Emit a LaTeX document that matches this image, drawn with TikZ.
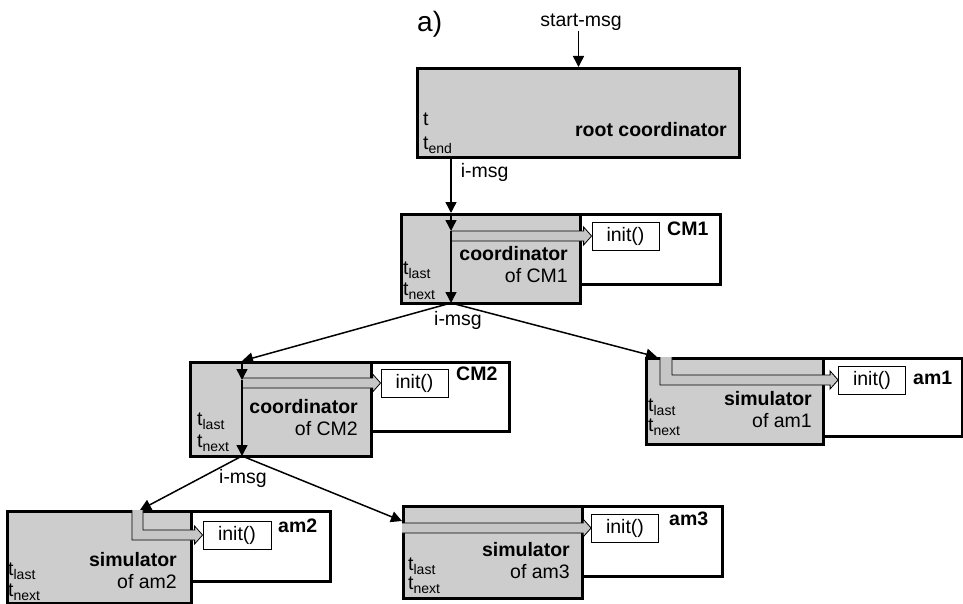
\documentclass[tikz,border=0pt]{standalone}
\usepackage{fontspec}
\setmainfont{Liberation Sans}
\usetikzlibrary{arrows.meta,calc}
\definecolor{boxgray}{RGB}{205,205,205}
\definecolor{bandgray}{RGB}{198,198,198}
% t with a lowered index (t_last, t_next, t_end)
\newcommand{\tix}[1]{t\raisebox{-4pt}{\fontsize{14}{14}\selectfont #1}}
% hollow arrow band from the vertical line #1 to the init() box #2
\newcommand{\hband}[2]{%
  \draw[band] ($(#1 |- #2)+(0,-5)$) -- ($(#2)+(-8,-5)$) -- ($(#2)+(-8,-9)$) -- (#2)
    -- ($(#2)+(-8,9)$) -- ($(#2)+(-8,5)$) -- ($(#1 |- #2)+(0,5)$);}

\begin{document}
\begin{tikzpicture}[x=1pt,y=-1pt,font=\fontsize{19.5}{22}\selectfont,
    every node/.style={inner sep=0pt},
    graybox/.style={draw,fill=boxgray,line width=3pt,anchor=north west},
    whitebox/.style={draw,fill=white,line width=3pt,anchor=north west},
    initbox/.style={draw,fill=white,line width=0.8pt,minimum width=67pt,minimum height=28pt},
    msg/.style={line width=1.5pt,-{Triangle[length=11pt,width=11pt]}},
    band/.style={fill=bandgray,draw,line width=0.8pt}]
    \useasboundingbox (0,0) rectangle (963,604);

    \node[anchor=base west,font=\fontsize{28}{28}\selectfont] (part) at (417,32) {a)};
    \node[anchor=base] (start) at (581,27) {start-msg};

    % root coordinator
    \node[graybox,minimum width=322pt,minimum height=89pt] (root) at (416,67) {};
    \node[anchor=base east] (rootname) at (727,137) {\textbf{root coordinator}};
    \node[anchor=base west] (roott) at (423,126) {t};
    \node[anchor=base west] (rootend) at (423,150) {\tix{end}};

    % coordinator of CM1
    \node[whitebox,minimum width=319pt,minimum height=70pt] (cm1w) at (400,213) {};
    \node[graybox,minimum width=179pt,minimum height=89pt] (cm1) at (400,213) {};
    \node[initbox] (cm1init) at (625.5,236) {init()};
    \node[anchor=base west] (cm1tag) at (667,235) {\textbf{CM1}};
    \node[anchor=base east,align=right] (cm1name) at (568,282) {\textbf{coordinator}\\of CM1};
    \node[anchor=base west] (cm1last) at (403,274) {\tix{last}};
    \node[anchor=base west] (cm1next) at (403,295) {\tix{next}};
    \coordinate (cm1in) at (451,231);
    \coordinate (cm1out) at (451,303);

    % coordinator of CM2
    \node[whitebox,minimum width=319pt,minimum height=69pt] (cm2w) at (189,361) {};
    \node[graybox,minimum width=181pt,minimum height=94pt] (cm2) at (189,361) {};
    \node[initbox] (cm2init) at (414.5,383) {init()};
    \node[anchor=base west] (cm2tag) at (456,380) {\textbf{CM2}};
    \node[anchor=base east,align=right] (cm2name) at (358,435) {\textbf{coordinator}\\of CM2};
    \node[anchor=base west] (cm2last) at (197,425) {\tix{last}};
    \node[anchor=base west] (cm2next) at (197,447) {\tix{next}};
    \coordinate (cm2in) at (242,380);
    \coordinate (cm2out) at (242,456);

    % simulator of am1
    \node[whitebox,minimum width=316pt,minimum height=78pt] (am1w) at (645,357) {};
    \node[graybox,minimum width=177pt,minimum height=86pt] (am1) at (645,357) {};
    \node[initbox] (am1init) at (872,380) {init()};
    \node[anchor=base west] (am1tag) at (913,384) {\textbf{am1}};
    \node[anchor=base east,align=right] (am1name) at (812,427) {\textbf{simulator}\\of am1};
    \node[anchor=base west] (am1last) at (648,411) {\tix{last}};
    \node[anchor=base west] (am1next) at (648,431) {\tix{next}};
    \coordinate (am1in) at (657,357);

    % simulator of am2
    \node[whitebox,minimum width=323pt,minimum height=70pt] (am2w) at (6,510) {};
    \node[graybox,minimum width=184pt,minimum height=92pt] (am2) at (6,510) {};
    \node[initbox,minimum width=68pt] (am2init) at (237,535) {init()};
    \node[anchor=base west] (am2tag) at (278,532) {\textbf{am2}};
    \node[anchor=base east,align=right] (am2name) at (177,588) {\textbf{simulator}\\of am2};
    \node[anchor=base west] (am2last) at (8,575) {\tix{last}};
    \node[anchor=base west] (am2next) at (8,596) {\tix{next}};
    \coordinate (am2in) at (140,510);

    % simulator of am3
    \node[whitebox,minimum width=319pt,minimum height=70pt] (am3w) at (402,505) {};
    \node[graybox,minimum width=179pt,minimum height=92pt] (am3) at (402,505) {};
    \node[initbox] (am3init) at (625,528) {init()};
    \node[anchor=base west] (am3tag) at (669,525) {\textbf{am3}};
    \node[anchor=base east,align=right] (am3name) at (570,578) {\textbf{simulator}\\of am3};
    \node[anchor=base west] (am3last) at (408,570) {\tix{last}};
    \node[anchor=base west] (am3next) at (408,589) {\tix{next}};
    \coordinate (am3in) at (402,521);

    % init() calls
    \hband{cm1in}{cm1init.west}
    \hband{cm2in}{cm2init.west}
    \hband{am3.west}{am3init.west}
    \draw[band] (660,357) |- ($(am1init.west)+(-8,5)$) -- ($(am1init.west)+(-8,9)$) -- (am1init.west)
        -- ($(am1init.west)+(-8,-9)$) -- ($(am1init.west)+(-8,-5)$) -- (672,375) -- (672,357);
    \draw[band] (132,510) |- ($(am2init.west)+(-8,5)$) -- ($(am2init.west)+(-8,9)$) -- (am2init.west)
        -- ($(am2init.west)+(-8,-9)$) -- ($(am2init.west)+(-8,-5)$) -- (143,530) -- (143,510);

    % messages
    \draw[msg] (start.south -| root.north) -- (root.north);
    \draw[msg] (root.south -| cm1in) -- node[pos=0.25,right=9pt,anchor=west] (imsg1) {i-msg} (cm1.north -| cm1in);
    \draw[msg] (cm1.north -| cm1in) -- (cm1in);
    \draw[msg] (cm1in) -- (cm1out);
    \node[anchor=base] (imsg2) at (458,325) {i-msg};
    \draw[msg] (cm1out) -- (cm2.north -| cm2in);
    \draw[msg] (cm1out) -- (am1in);
    \draw[msg] (cm2.north -| cm2in) -- (cm2in);
    \draw[msg] (cm2in) -- (cm2out);
    \node[anchor=base] (imsg3) at (243,483) {i-msg};
    \draw[msg] (cm2out) -- (am2in);
    \draw[msg] (cm2out) -- (am3in);
\end{tikzpicture}
\end{document}
